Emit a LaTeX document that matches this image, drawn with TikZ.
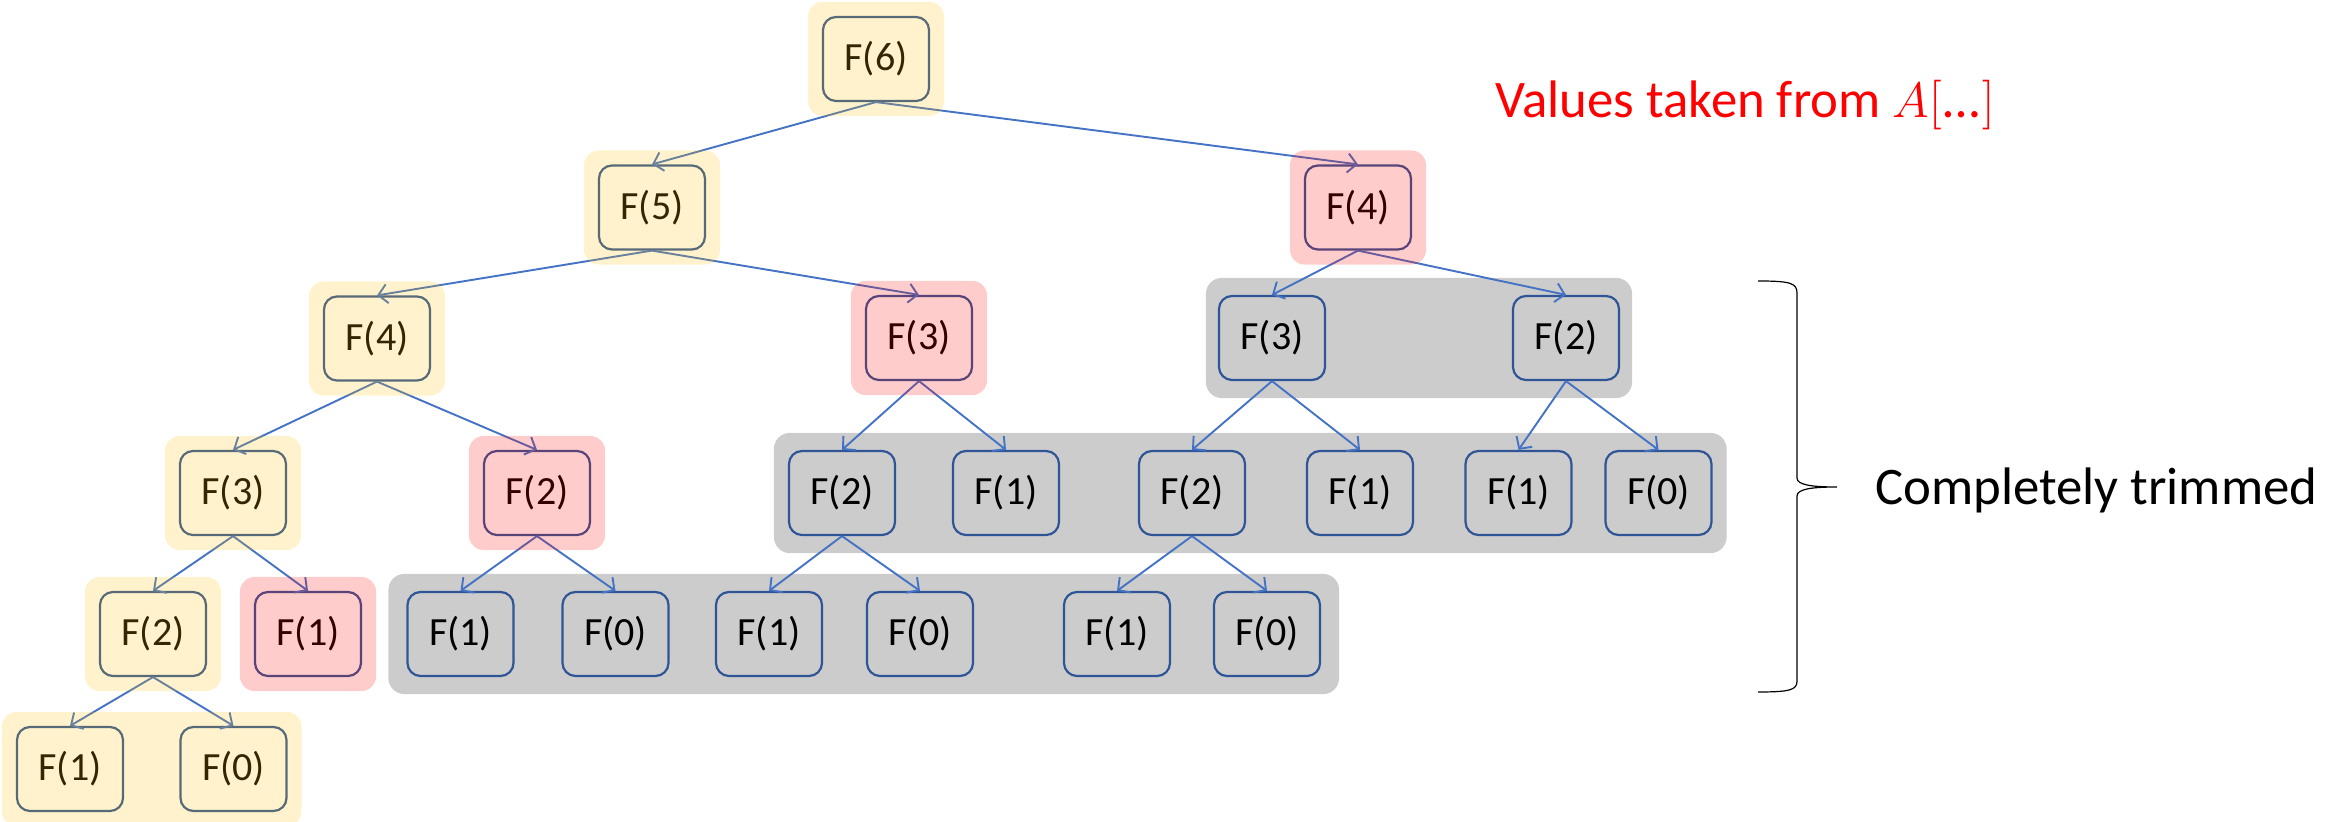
\documentclass[tikz,border=0pt]{standalone}
\usepackage{fontspec}
\setmainfont{Carlito}
\usetikzlibrary{arrows.meta, fit, backgrounds}

\definecolor{boxblue}{HTML}{2F5597}
\definecolor{linkblue}{HTML}{4472C4}
\definecolor{memoyellow}{HTML}{FFC000}
\definecolor{memored}{HTML}{FF0000}

\tikzset{
  call/.style={draw=boxblue, line width=1.1pt, rounded corners=6.5pt,
    minimum width=53pt, minimum height=42pt, inner sep=0pt,
    font=\fontsize{20}{24}\selectfont},
  link/.style={linkblue, line width=0.95pt},
  computed/.style={fill=memoyellow, fill opacity=0.2, rounded corners=7.5pt, inner sep=7pt},
  cached/.style={fill=memored, fill opacity=0.2, rounded corners=7.5pt, inner sep=7pt},
  trimmed/.style={fill=black!20, rounded corners=8pt, inner ysep=8.5pt},
  bigtext/.style={anchor=base west, inner sep=0pt, font=\fontsize{26.4}{30}\selectfont}
}

\begin{document}
\begin{tikzpicture}[x=0.5pt, y=-0.5pt, >={Straight Barb[length=4.5pt,width=9.5pt]}]
\useasboundingbox (0,0) rectangle (2331,822);

% define the calls, level by level
  \node[call] (f6)  at (876,59)    {F(6)};

  \node[call] (f5)  at (652,207.5) {F(5)};
  \node[call] (f4r) at (1358,207.5) {F(4)};

  \node[call] (f4)  at (377,338.5) {F(4)};
  \node[call] (f3r) at (919,338)   {F(3)};
  \node[call] (g3)  at (1272,338)  {F(3)};
  \node[call] (g2)  at (1566,338)  {F(2)};

  \node[call] (f3)  at (233,493)   {F(3)};
  \node[call] (f2r) at (537,493)   {F(2)};
  \node[call] (g21) at (842,493)   {F(2)};
  \node[call] (g11) at (1006,493)  {F(1)};
  \node[call] (g22) at (1192,493)  {F(2)};
  \node[call] (g12) at (1360,493)  {F(1)};
  \node[call] (g13) at (1518.5,493) {F(1)};
  \node[call] (g01) at (1658.5,493) {F(0)};

  \node[call] (f2)  at (153,634)   {F(2)};
  \node[call] (f1r) at (308,634)   {F(1)};
  \node[call] (h11) at (460.5,634) {F(1)};
  \node[call] (h01) at (615.5,634) {F(0)};
  \node[call] (h12) at (769,634)   {F(1)};
  \node[call] (h02) at (920,634)   {F(0)};
  \node[call] (h13) at (1117,634)  {F(1)};
  \node[call] (h03) at (1267,634)  {F(0)};

  \node[call] (f1)  at (70,769)    {F(1)};
  \node[call] (f0)  at (233.5,769) {F(0)};

% define the links
  \path[->, link] (f6.south) edge (f5.north)
                   edge (f4r.north)
        (f5.south)  edge (f4.north)
                   edge (f3r.north)
        (f4.south)  edge (f3.north)
                   edge (f2r.north)
        (f3.south)  edge (f2.north)
                   edge (f1r.north)
        (f2.south)  edge (f1.north)
                   edge (f0.north)
        (f2r.south) edge (h11.north)
                   edge (h01.north)
        (f3r.south) edge (g21.north)
                   edge (g11.north)
        (g21.south) edge (h12.north)
                   edge (h02.north)
        (f4r.south) edge (g3.north)
                   edge (g2.north)
        (g3.south)  edge (g22.north)
                   edge (g12.north)
        (g22.south) edge (h13.north)
                   edge (h03.north)
        (g2.south)  edge (g13.north)
                   edge (g01.north);

% trimmed calls behind
  \begin{scope}[on background layer]
    \node[trimmed, inner xsep=6pt, fit=(g3)(g2)] (trimtop) {};
    \node[trimmed, inner xsep=7pt, fit=(g21)(g01)] (trimmid) {};
    \node[trimmed, inner xsep=9pt, fit=(h11)(h03)] (trimlow) {};
  \end{scope}

% computed and cached calls on top
  \node[computed, fit=(f6)] (hl6) {};
  \node[computed, fit=(f5)] (hl5) {};
  \node[computed, fit=(f4)] (hl4) {};
  \node[computed, fit=(f3)] (hl3) {};
  \node[computed, fit=(f2)] (hl2) {};
  \node[computed, fit=(f1)(f0)] (hl10) {};
  \node[cached, fit=(f4r)] (ca4) {};
  \node[cached, fit=(f3r)] (ca3) {};
  \node[cached, fit=(f2r)] (ca2) {};
  \node[cached, fit=(f1r)] (ca1) {};

% notes
  \node[bigtext, text=memored] (memo) at (1495,118)
    {Values taken from $A\big[$\kern1pt…\kern1pt$\big]$};
  \node[bigtext] (trim) at (1875,505) {Completely trimmed};

  \draw[line width=0.6pt] (1758,281) .. controls (1790,281) and (1797,283) .. (1797,293)
    -- (1797,478) .. controls (1797,485) and (1812,487) .. (1837,487)
    .. controls (1812,487) and (1797,489) .. (1797,496)
    -- (1797,681) .. controls (1797,690) and (1790,692) .. (1758,692);

\end{tikzpicture}
\end{document}
